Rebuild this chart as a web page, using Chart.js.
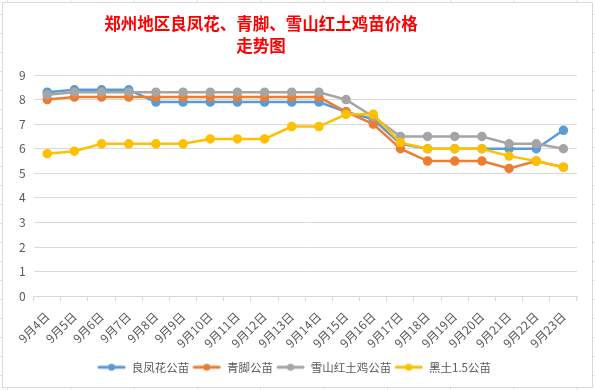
<!DOCTYPE html>
<html lang="zh">
<head>
  <meta charset="UTF-8">
  <title>郑州地区鸡苗价格走势图</title>
  <script src="https://cdn.jsdelivr.net/npm/chart.js"></script>
  <style>
    html, body { margin: 0; padding: 0; }
    body {
      width: 595px; height: 390px; overflow: hidden;
      background-color: #fff;
      background-image:
        linear-gradient(to right, #e1e1e1 1px, transparent 1px),
        linear-gradient(to bottom, #e1e1e1 1px, transparent 1px);
      background-size: 63.3px 19px;
      background-position: 7px 14px;
    }
    .box {
      position: absolute; left: 2px; top: 2px;
      width: 589px; height: 384px;
      background: #fff; border: 1px solid #d9d9d9;
    }
  </style>
</head>
<body>
  <div class="box">
    <canvas id="chart" width="589" height="384"></canvas>
  </div>

  <script>
    const dates = ['9月4日','9月5日','9月6日','9月7日','9月8日','9月9日','9月10日','9月11日','9月12日','9月13日',
                   '9月14日','9月15日','9月16日','9月17日','9月18日','9月19日','9月20日','9月21日','9月22日','9月23日'];
    const liangfeng = [8.3, 8.4, 8.4, 8.4, 7.9, 7.9, 7.9, 7.9, 7.9, 7.9, 7.9, 7.5, 7.2, 6.2, 6.0, 6.0, 6.0, 6.0, 6.0, 6.75];
    const qingjiao  = [8.0, 8.1, 8.1, 8.1, 8.1, 8.1, 8.1, 8.1, 8.1, 8.1, 8.1, 7.5, 7.0, 6.0, 5.5, 5.5, 5.5, 5.2, 5.5, 5.25];
    const xueshan   = [8.2, 8.3, 8.3, 8.3, 8.3, 8.3, 8.3, 8.3, 8.3, 8.3, 8.3, 8.0, 7.3, 6.5, 6.5, 6.5, 6.5, 6.2, 6.2, 6.0];
    const heitu     = [5.8, 5.9, 6.2, 6.2, 6.2, 6.2, 6.4, 6.4, 6.4, 6.9, 6.9, 7.4, 7.4, 6.25, 6.0, 6.0, 6.0, 5.7, 5.5, 5.25];
    const seriesNames = ['良凤花公苗', '青脚公苗', '雪山红土鸡公苗', '黑土1.5公苗'];
    const colors = ['#5B9BD5', '#ED7D31', '#A5A5A5', '#FFC000'];
    const yTicks = [0, 1, 2, 3, 4, 5, 6, 7, 8, 9];
    const titleLines = ['郑州地区良凤花、青脚、雪山红土鸡苗价格', '走势图'];

    const font = '"Noto Sans CJK SC", "Liberation Sans", sans-serif';

    // legend marker: short line with a dot, like Excel
    function legendMark(color) {
      const c = document.createElement('canvas');
      c.width = 29; c.height = 10;
      const g = c.getContext('2d');
      g.strokeStyle = color; g.lineWidth = 3; g.lineCap = 'round';
      g.beginPath(); g.moveTo(2, 5); g.lineTo(27, 5); g.stroke();
      g.fillStyle = color;
      g.beginPath(); g.arc(14.5, 5, 3.5, 0, Math.PI * 2); g.fill();
      return c;
    }

    // the title sits a bit left of centre in the original, so draw it by hand
    const titlePlugin = {
      id: 'leftTitle',
      afterDraw(chart) {
        const ctx = chart.ctx;
        ctx.save();
        ctx.fillStyle = '#FF0000';
        ctx.font = 'bold 16.5px ' + font;
        ctx.textAlign = 'center';
        ctx.textBaseline = 'middle';
        ctx.fillText(titleLines[0], 258, 21);
        ctx.fillText(titleLines[1], 258, 42.5);
        ctx.restore();
      }
    };

    const allData = [liangfeng, qingjiao, xueshan, heitu];
    const datasets = allData.map((d, i) => ({
      label: seriesNames[i],
      data: d,
      borderColor: colors[i],
      backgroundColor: colors[i],
      borderWidth: 2.5,
      pointRadius: 3.5,
      pointHoverRadius: 3.5,
      pointStyle: 'circle',
      tension: 0,
      order: 4 - i
    }));

    new Chart(document.getElementById('chart').getContext('2d'), {
      type: 'line',
      data: { labels: dates, datasets },
      plugins: [titlePlugin],
      options: {
        responsive: false,
        animation: false,
        layout: { padding: { left: 8, right: 15, top: 72, bottom: 4 } },
        plugins: {
          title: { display: false },
          legend: {
            position: 'bottom',
            labels: {
              color: '#595959',
              font: { family: font, size: 11.5 },
              usePointStyle: true,
              pointStyleWidth: 29,
              boxHeight: 10,
              padding: 3,
              generateLabels(chart) {
                return chart.data.datasets.map((ds, i) => ({
                  text: ds.label,
                  fontColor: '#595959',
                  pointStyle: legendMark(ds.borderColor),
                  datasetIndex: i,
                  hidden: false,
                  lineWidth: 0
                }));
              }
            }
          },
          tooltip: { enabled: false }
        },
        scales: {
          x: {
            offset: true,
            grid: { display: true, drawOnChartArea: false, drawTicks: true, tickLength: 5, color: '#d9d9d9', offset: true },
            border: { color: '#d9d9d9' },
            ticks: {
              color: '#595959',
              font: { family: font, size: 12 },
              minRotation: 45, maxRotation: 45,
              autoSkip: false, padding: 8
            }
          },
          y: {
            min: 0, max: 9,
            afterBuildTicks(axis) { axis.ticks = yTicks.map(v => ({ value: v })); },
            grid: { color: '#d9d9d9', drawTicks: false },
            border: { display: false },
            ticks: { color: '#595959', font: { family: font, size: 12 }, padding: 8 }
          }
        }
      }
    });
  </script>
</body>
</html>
